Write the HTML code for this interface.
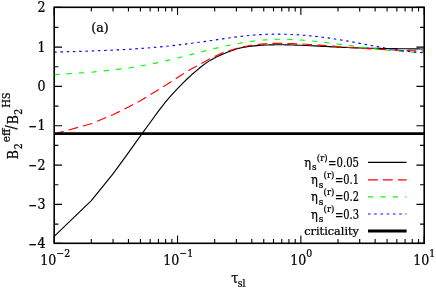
<!DOCTYPE html>
<html><head><meta charset="utf-8"><title>B2 eff</title>
<style>
html,body{margin:0;padding:0;background:#fff;}
svg{display:block;}
text{font-family:"DejaVu Serif Condensed","DejaVu Serif","Liberation Serif",serif;font-stretch:condensed;fill:#000;}
.t{filter:grayscale(1);}
</style></head><body>
<svg width="436" height="289" viewBox="0 0 436 289">
<rect width="436" height="289" fill="#fff"/>
<g fill="none" stroke-width="1.15" stroke-linejoin="round">
<path d="M54.2,236.30 L91.3,200.67 L113.0,173.90 L128.5,152.67 L140.4,135.93 L150.2,122.48 L158.4,111.09 L165.6,101.87 L171.9,94.67 L177.5,88.61 L182.6,83.36 L187.3,78.78 L191.6,74.80 L195.6,71.32 L199.3,68.27 L202.7,65.52 L206.0,63.14 L209.0,61.12 L211.9,59.39 L214.7,57.89 L217.3,56.58 L219.8,55.42 L222.1,54.39 L224.4,53.45 L226.6,52.58 L228.7,51.77 L230.7,51.01 L232.7,50.28 L234.6,49.62 L236.4,49.05 L238.1,48.55 L239.8,48.11 L241.5,47.73 L243.1,47.39 L244.6,47.10 L246.1,46.85 L249.0,46.42 L251.8,46.09 L254.4,45.82 L256.9,45.60 L259.3,45.41 L261.6,45.26 L263.7,45.14 L265.8,45.03 L267.9,44.95 L269.8,44.89 L271.7,44.84 L273.5,44.81 L275.3,44.78 L277.0,44.77 L278.6,44.77 L280.2,44.77 L281.8,44.78 L283.3,44.79 L285.5,44.82 L287.6,44.86 L289.6,44.91 L291.5,44.96 L293.4,45.02 L295.2,45.08 L297.0,45.14 L298.7,45.21 L300.3,45.27 L306.0,45.51 L310.6,45.73 L314.9,45.93 L318.9,46.13 L322.6,46.32 L326.0,46.50 L329.3,46.67 L332.4,46.82 L335.2,46.96 L338.0,47.10 L340.6,47.22 L343.1,47.33 L345.5,47.44 L347.8,47.53 L349.9,47.62 L352.0,47.70 L354.1,47.78 L356.0,47.84 L357.9,47.90 L359.7,47.96 L361.5,48.01 L363.2,48.06 L364.8,48.10 L366.4,48.15 L368.0,48.18 L369.5,48.22 L372.4,48.28 L375.1,48.34 L377.7,48.39 L380.2,48.43 L382.6,48.47 L384.9,48.51 L387.1,48.54 L389.2,48.57 L391.2,48.60 L393.1,48.63 L395.0,48.65 L396.8,48.67 L398.6,48.70 L400.3,48.72 L401.9,48.74 L403.5,48.76 L405.1,48.77 L406.6,48.79 L408.8,48.82 L410.9,48.84 L412.9,48.87 L414.9,48.89 L416.7,48.91 L418.6,48.94 L420.3,48.96 L422.0,48.99 L423.7,49.01 L424.2,49.02" stroke="#000"/>
<path d="M54.2,133.96 L91.3,123.69 L113.0,114.72 L128.5,107.02 L140.4,100.70 L150.2,94.66 L158.4,89.70 L165.6,85.30 L171.9,81.33 L177.5,77.52 L182.6,74.22 L187.3,71.38 L191.6,68.87 L195.6,66.63 L199.3,64.59 L202.7,62.72 L206.0,60.97 L209.0,59.33 L211.9,57.81 L214.7,56.41 L217.3,55.15 L219.8,54.01 L222.1,53.01 L224.4,52.14 L226.6,51.39 L228.7,50.76 L230.7,50.23 L232.7,49.63 L234.6,49.00 L236.4,48.44 L238.1,47.95 L239.8,47.53 L241.5,47.17 L243.1,46.84 L244.6,46.55 L246.1,46.28 L249.0,45.79 L251.8,45.35 L254.4,44.96 L256.9,44.62 L259.3,44.33 L261.6,44.09 L263.7,43.90 L265.8,43.76 L267.9,43.64 L269.8,43.55 L271.7,43.48 L273.5,43.44 L275.3,43.41 L277.0,43.39 L278.6,43.38 L280.2,43.38 L281.8,43.38 L283.3,43.40 L285.5,43.43 L287.6,43.47 L289.6,43.52 L291.5,43.58 L293.4,43.64 L295.2,43.71 L297.0,43.79 L298.7,43.86 L300.3,43.94 L306.0,44.26 L310.6,44.55 L314.9,44.85 L318.9,45.14 L322.6,45.42 L326.0,45.69 L329.3,45.94 L332.4,46.19 L335.2,46.42 L338.0,46.64 L340.6,46.84 L343.1,47.03 L345.5,47.21 L347.8,47.38 L349.9,47.54 L352.0,47.69 L354.1,47.83 L356.0,47.96 L357.9,48.09 L359.7,48.21 L361.5,48.32 L363.2,48.43 L364.8,48.53 L366.4,48.63 L368.0,48.72 L369.5,48.81 L372.4,48.98 L375.1,49.14 L377.7,49.28 L380.2,49.41 L382.6,49.53 L384.9,49.65 L387.1,49.75 L389.2,49.85 L391.2,49.94 L393.1,50.03 L395.0,50.11 L396.8,50.19 L398.6,50.26 L400.3,50.33 L401.9,50.39 L403.5,50.46 L405.1,50.51 L406.6,50.57 L408.8,50.65 L410.9,50.72 L412.9,50.78 L414.9,50.84 L416.7,50.90 L418.6,50.95 L420.3,51.00 L422.0,51.05 L423.7,51.09 L424.2,51.11" stroke="#f00" stroke-dasharray="9.8 5.13"/>
<path d="M54.2,74.75 L91.3,72.22 L113.0,70.01 L128.5,67.96 L140.4,66.04 L150.2,64.22 L158.4,62.50 L165.6,60.88 L171.9,59.37 L177.5,57.96 L182.6,56.67 L187.3,55.47 L191.6,54.36 L195.6,53.33 L199.3,52.38 L202.7,51.50 L206.0,50.68 L209.0,49.91 L211.9,49.20 L214.7,48.53 L217.3,47.91 L219.8,47.33 L222.1,46.79 L224.4,46.28 L226.6,45.81 L228.7,45.36 L230.7,44.95 L232.7,44.56 L234.6,44.19 L236.4,43.84 L238.1,43.52 L239.8,43.22 L241.5,42.93 L243.1,42.66 L244.6,42.41 L246.1,42.17 L249.0,41.74 L251.8,41.35 L254.4,41.01 L256.9,40.72 L259.3,40.46 L261.6,40.23 L263.7,40.03 L265.8,39.86 L267.9,39.72 L269.8,39.59 L271.7,39.49 L273.5,39.41 L275.3,39.35 L277.0,39.30 L278.6,39.27 L280.2,39.25 L281.8,39.24 L283.3,39.25 L285.5,39.27 L287.6,39.32 L289.6,39.38 L291.5,39.45 L293.4,39.53 L295.2,39.63 L297.0,39.73 L298.7,39.84 L300.3,39.95 L306.0,40.40 L310.6,40.83 L314.9,41.28 L318.9,41.72 L322.6,42.15 L326.0,42.57 L329.3,42.97 L332.4,43.36 L335.2,43.73 L338.0,44.08 L340.6,44.42 L343.1,44.75 L345.5,45.06 L347.8,45.36 L349.9,45.65 L352.0,45.93 L354.1,46.19 L356.0,46.45 L357.9,46.69 L359.7,46.92 L361.5,47.15 L363.2,47.37 L364.8,47.58 L366.4,47.78 L368.0,47.97 L369.5,48.16 L372.4,48.51 L375.1,48.84 L377.7,49.14 L380.2,49.42 L382.6,49.69 L384.9,49.93 L387.1,50.16 L389.2,50.38 L391.2,50.58 L393.1,50.76 L395.0,50.93 L396.8,51.10 L398.6,51.25 L400.3,51.39 L401.9,51.52 L403.5,51.64 L405.1,51.76 L406.6,51.86 L408.8,52.01 L410.9,52.13 L412.9,52.25 L414.9,52.35 L416.7,52.44 L418.6,52.52 L420.3,52.58 L422.0,52.64 L423.7,52.69 L424.2,52.70" stroke="#0f0" stroke-dasharray="5.2 7.24"/>
<path d="M54.2,52.13 L91.3,51.04 L113.0,50.14 L128.5,49.30 L140.4,48.51 L150.2,47.76 L158.4,47.04 L165.6,46.34 L171.9,45.68 L177.5,45.04 L182.6,44.43 L187.3,43.85 L191.6,43.30 L195.6,42.77 L199.3,42.27 L202.7,41.79 L206.0,41.32 L209.0,40.88 L211.9,40.46 L214.7,40.05 L217.3,39.66 L219.8,39.29 L222.1,38.94 L224.4,38.60 L226.6,38.29 L228.7,37.98 L230.7,37.70 L232.7,37.43 L234.6,37.18 L236.4,36.94 L238.1,36.71 L239.8,36.50 L241.5,36.30 L243.1,36.12 L244.6,35.94 L246.1,35.78 L249.0,35.49 L251.8,35.24 L254.4,35.02 L256.9,34.84 L259.3,34.69 L261.6,34.56 L263.7,34.46 L265.8,34.37 L267.9,34.30 L269.8,34.25 L271.7,34.22 L273.5,34.19 L275.3,34.18 L277.0,34.17 L278.6,34.18 L280.2,34.19 L281.8,34.21 L283.3,34.24 L285.5,34.29 L287.6,34.36 L289.6,34.43 L291.5,34.51 L293.4,34.60 L295.2,34.70 L297.0,34.80 L298.7,34.91 L300.3,35.02 L306.0,35.46 L310.6,35.89 L314.9,36.33 L318.9,36.79 L322.6,37.24 L326.0,37.69 L329.3,38.14 L332.4,38.59 L335.2,39.03 L338.0,39.46 L340.6,39.89 L343.1,40.30 L345.5,40.71 L347.8,41.11 L349.9,41.51 L352.0,41.89 L354.1,42.26 L356.0,42.62 L357.9,42.97 L359.7,43.31 L361.5,43.64 L363.2,43.96 L364.8,44.27 L366.4,44.58 L368.0,44.87 L369.5,45.15 L372.4,45.70 L375.1,46.21 L377.7,46.69 L380.2,47.14 L382.6,47.56 L384.9,47.96 L387.1,48.34 L389.2,48.69 L391.2,49.02 L393.1,49.33 L395.0,49.62 L396.8,49.90 L398.6,50.16 L400.3,50.40 L401.9,50.62 L403.5,50.84 L405.1,51.03 L406.6,51.22 L408.8,51.47 L410.9,51.70 L412.9,51.91 L414.9,52.09 L416.7,52.25 L418.6,52.40 L420.3,52.52 L422.0,52.63 L423.7,52.72 L424.2,52.75" stroke="#00f" stroke-dasharray="2.5 3.74"/>
</g>
<line x1="54.2" x2="424.2" y1="133.55" y2="133.55" stroke="#000" stroke-width="2.7"/>
<g fill="none" stroke-width="1.15">
<line x1="368.0" x2="406.6" y1="162.4" y2="162.4" stroke="#000"/>
<line x1="368.0" x2="406.6" y1="179.8" y2="179.8" stroke="#f00" stroke-dasharray="9.8 5.13"/>
<line x1="368.0" x2="406.6" y1="196.9" y2="196.9" stroke="#0f0" stroke-dasharray="5.2 7.24"/>
<line x1="368.0" x2="406.6" y1="214.0" y2="214.0" stroke="#00f" stroke-dasharray="2.5 3.74"/>
<line x1="368.0" x2="406.6" y1="231.0" y2="231.0" stroke="#000" stroke-width="3.0"/>
</g>
<rect x="54.2" y="7.3" width="370.0" height="236.0" stroke="#000" stroke-width="1.6" fill="none"/>
<path d="M54.2,7.30h7.8 M424.2,7.30h-7.8 M54.2,27.42h4.2 M424.2,27.42h-4.2 M54.2,47.08h7.8 M424.2,47.08h-7.8 M54.2,66.75h4.2 M424.2,66.75h-4.2 M54.2,86.42h7.8 M424.2,86.42h-7.8 M54.2,106.08h4.2 M424.2,106.08h-4.2 M54.2,125.75h7.8 M424.2,125.75h-7.8 M54.2,145.42h4.2 M424.2,145.42h-4.2 M54.2,165.08h7.8 M424.2,165.08h-7.8 M54.2,184.75h4.2 M424.2,184.75h-4.2 M54.2,204.42h7.8 M424.2,204.42h-7.8 M54.2,224.08h4.2 M424.2,224.08h-4.2 M54.2,243.30h7.8 M424.2,243.30h-7.8 M54.20,243.3v-7.8 M54.20,7.3v7.8 M91.33,243.3v-4.2 M91.33,7.3v4.2 M113.04,243.3v-4.2 M113.04,7.3v4.2 M128.45,243.3v-4.2 M128.45,7.3v4.2 M140.41,243.3v-4.2 M140.41,7.3v4.2 M150.17,243.3v-4.2 M150.17,7.3v4.2 M158.43,243.3v-4.2 M158.43,7.3v4.2 M165.58,243.3v-4.2 M165.58,7.3v4.2 M171.89,243.3v-4.2 M171.89,7.3v4.2 M177.53,243.3v-7.8 M177.53,7.3v7.8 M214.66,243.3v-4.2 M214.66,7.3v4.2 M236.38,243.3v-4.2 M236.38,7.3v4.2 M251.79,243.3v-4.2 M251.79,7.3v4.2 M263.74,243.3v-4.2 M263.74,7.3v4.2 M273.51,243.3v-4.2 M273.51,7.3v4.2 M281.76,243.3v-4.2 M281.76,7.3v4.2 M288.91,243.3v-4.2 M288.91,7.3v4.2 M295.22,243.3v-4.2 M295.22,7.3v4.2 M300.87,243.3v-7.8 M300.87,7.3v7.8 M337.99,243.3v-4.2 M337.99,7.3v4.2 M359.71,243.3v-4.2 M359.71,7.3v4.2 M375.12,243.3v-4.2 M375.12,7.3v4.2 M387.07,243.3v-4.2 M387.07,7.3v4.2 M396.84,243.3v-4.2 M396.84,7.3v4.2 M405.10,243.3v-4.2 M405.10,7.3v4.2 M412.25,243.3v-4.2 M412.25,7.3v4.2 M418.56,243.3v-4.2 M418.56,7.3v4.2 M424.20,243.3v-7.8 M424.20,7.3v7.8" stroke="#000" stroke-width="1.1" fill="none"/>
<g class="t" stroke="#000" stroke-width="0.24">
<text x="45.6" y="12.45" font-size="14.0" text-anchor="end" textLength="8.02" lengthAdjust="spacingAndGlyphs">2</text>
<text x="45.6" y="51.78" font-size="14.0" text-anchor="end" textLength="8.02" lengthAdjust="spacingAndGlyphs">1</text>
<text x="45.6" y="91.12" font-size="14.0" text-anchor="end" textLength="8.02" lengthAdjust="spacingAndGlyphs">0</text>
<text x="45.6" y="130.45" font-size="14.0" text-anchor="end" textLength="8.02" lengthAdjust="spacingAndGlyphs">1</text>
<text x="28.6" y="130.85" font-size="14.0" textLength="8.6" lengthAdjust="spacingAndGlyphs">−</text>
<text x="45.6" y="169.78" font-size="14.0" text-anchor="end" textLength="8.02" lengthAdjust="spacingAndGlyphs">2</text>
<text x="28.6" y="170.18" font-size="14.0" textLength="8.6" lengthAdjust="spacingAndGlyphs">−</text>
<text x="45.6" y="209.12" font-size="14.0" text-anchor="end" textLength="8.02" lengthAdjust="spacingAndGlyphs">3</text>
<text x="28.6" y="209.52" font-size="14.0" textLength="8.6" lengthAdjust="spacingAndGlyphs">−</text>
<text x="45.6" y="248.45" font-size="14.0" text-anchor="end" textLength="8.02" lengthAdjust="spacingAndGlyphs">4</text>
<text x="28.6" y="248.85" font-size="14.0" textLength="8.6" lengthAdjust="spacingAndGlyphs">−</text>
<text x="40.3" y="264.9" font-size="14.0" textLength="16.03" lengthAdjust="spacingAndGlyphs">10</text>
<text x="56.3" y="257.3" font-size="10.4" textLength="13.78" lengthAdjust="spacingAndGlyphs">−2</text>
<text x="163.3" y="264.9" font-size="14.0" textLength="16.03" lengthAdjust="spacingAndGlyphs">10</text>
<text x="179.3" y="257.3" font-size="10.4" textLength="13.78" lengthAdjust="spacingAndGlyphs">−1</text>
<text x="290.3" y="264.9" font-size="14.0" textLength="16.03" lengthAdjust="spacingAndGlyphs">10</text>
<text x="306.3" y="257.3" font-size="10.4" textLength="5.95" lengthAdjust="spacingAndGlyphs">0</text>
<text x="413.3" y="264.9" font-size="14.0" textLength="16.03" lengthAdjust="spacingAndGlyphs">10</text>
<text x="429.3" y="257.3" font-size="10.4" textLength="5.95" lengthAdjust="spacingAndGlyphs">1</text>
<text x="231.3" y="282.9" font-size="14.0" textLength="6.97" lengthAdjust="spacingAndGlyphs">τ</text>
<text x="237.8" y="287.0" font-size="10.4" textLength="7.80" lengthAdjust="spacingAndGlyphs">sl</text>
<text x="91.3" y="31.8" font-size="13.2" textLength="17.4" lengthAdjust="spacingAndGlyphs">(a)</text>
<g transform="translate(18,158.8) rotate(-90)">
<text x="-0.4" y="0" font-size="14.0" textLength="9.27" lengthAdjust="spacingAndGlyphs">B</text>
<text x="9.6" y="4.2" font-size="10.4" textLength="5.95" lengthAdjust="spacingAndGlyphs">2</text>
<text x="16.6" y="-7.8" font-size="10.4" textLength="13.6" lengthAdjust="spacingAndGlyphs">eff</text>
<text x="29.4" y="-1.9" font-size="14.0" textLength="4.25" lengthAdjust="spacingAndGlyphs">/</text>
<text x="34.6" y="0" font-size="14.0" textLength="9.27" lengthAdjust="spacingAndGlyphs">B</text>
<text x="44.0" y="4.2" font-size="10.4" textLength="5.95" lengthAdjust="spacingAndGlyphs">2</text>
<text x="51.0" y="-7.8" font-size="10.4" textLength="15.4" lengthAdjust="spacingAndGlyphs">HS</text>
</g>
<text x="304.2" y="166.9" font-size="12.6" textLength="6.80" lengthAdjust="spacingAndGlyphs">η</text>
<text x="311.9" y="170.3" font-size="10.0" textLength="4.62" lengthAdjust="spacingAndGlyphs">s</text>
<text x="316.8" y="160.7" font-size="10.0" textLength="10.8" lengthAdjust="spacingAndGlyphs">(r)</text>
<text x="359.0" y="166.9" font-size="12.6" text-anchor="end" textLength="30.9" lengthAdjust="spacingAndGlyphs">=0.05</text>
<text x="311.0" y="184.3" font-size="12.6" textLength="6.80" lengthAdjust="spacingAndGlyphs">η</text>
<text x="318.7" y="187.7" font-size="10.0" textLength="4.62" lengthAdjust="spacingAndGlyphs">s</text>
<text x="323.6" y="178.1" font-size="10.0" textLength="10.8" lengthAdjust="spacingAndGlyphs">(r)</text>
<text x="359.0" y="184.3" font-size="12.6" text-anchor="end" textLength="24.0" lengthAdjust="spacingAndGlyphs">=0.1</text>
<text x="311.0" y="201.4" font-size="12.6" textLength="6.80" lengthAdjust="spacingAndGlyphs">η</text>
<text x="318.7" y="204.8" font-size="10.0" textLength="4.62" lengthAdjust="spacingAndGlyphs">s</text>
<text x="323.6" y="195.2" font-size="10.0" textLength="10.8" lengthAdjust="spacingAndGlyphs">(r)</text>
<text x="359.0" y="201.4" font-size="12.6" text-anchor="end" textLength="24.0" lengthAdjust="spacingAndGlyphs">=0.2</text>
<text x="311.0" y="218.5" font-size="12.6" textLength="6.80" lengthAdjust="spacingAndGlyphs">η</text>
<text x="318.7" y="221.9" font-size="10.0" textLength="4.62" lengthAdjust="spacingAndGlyphs">s</text>
<text x="323.6" y="212.3" font-size="10.0" textLength="10.8" lengthAdjust="spacingAndGlyphs">(r)</text>
<text x="359.0" y="218.5" font-size="12.6" text-anchor="end" textLength="24.0" lengthAdjust="spacingAndGlyphs">=0.3</text>
<text x="358.9" y="235.4" font-size="11.7" text-anchor="end" textLength="54.6" lengthAdjust="spacingAndGlyphs">criticality</text>
</g>
</svg></body></html>
